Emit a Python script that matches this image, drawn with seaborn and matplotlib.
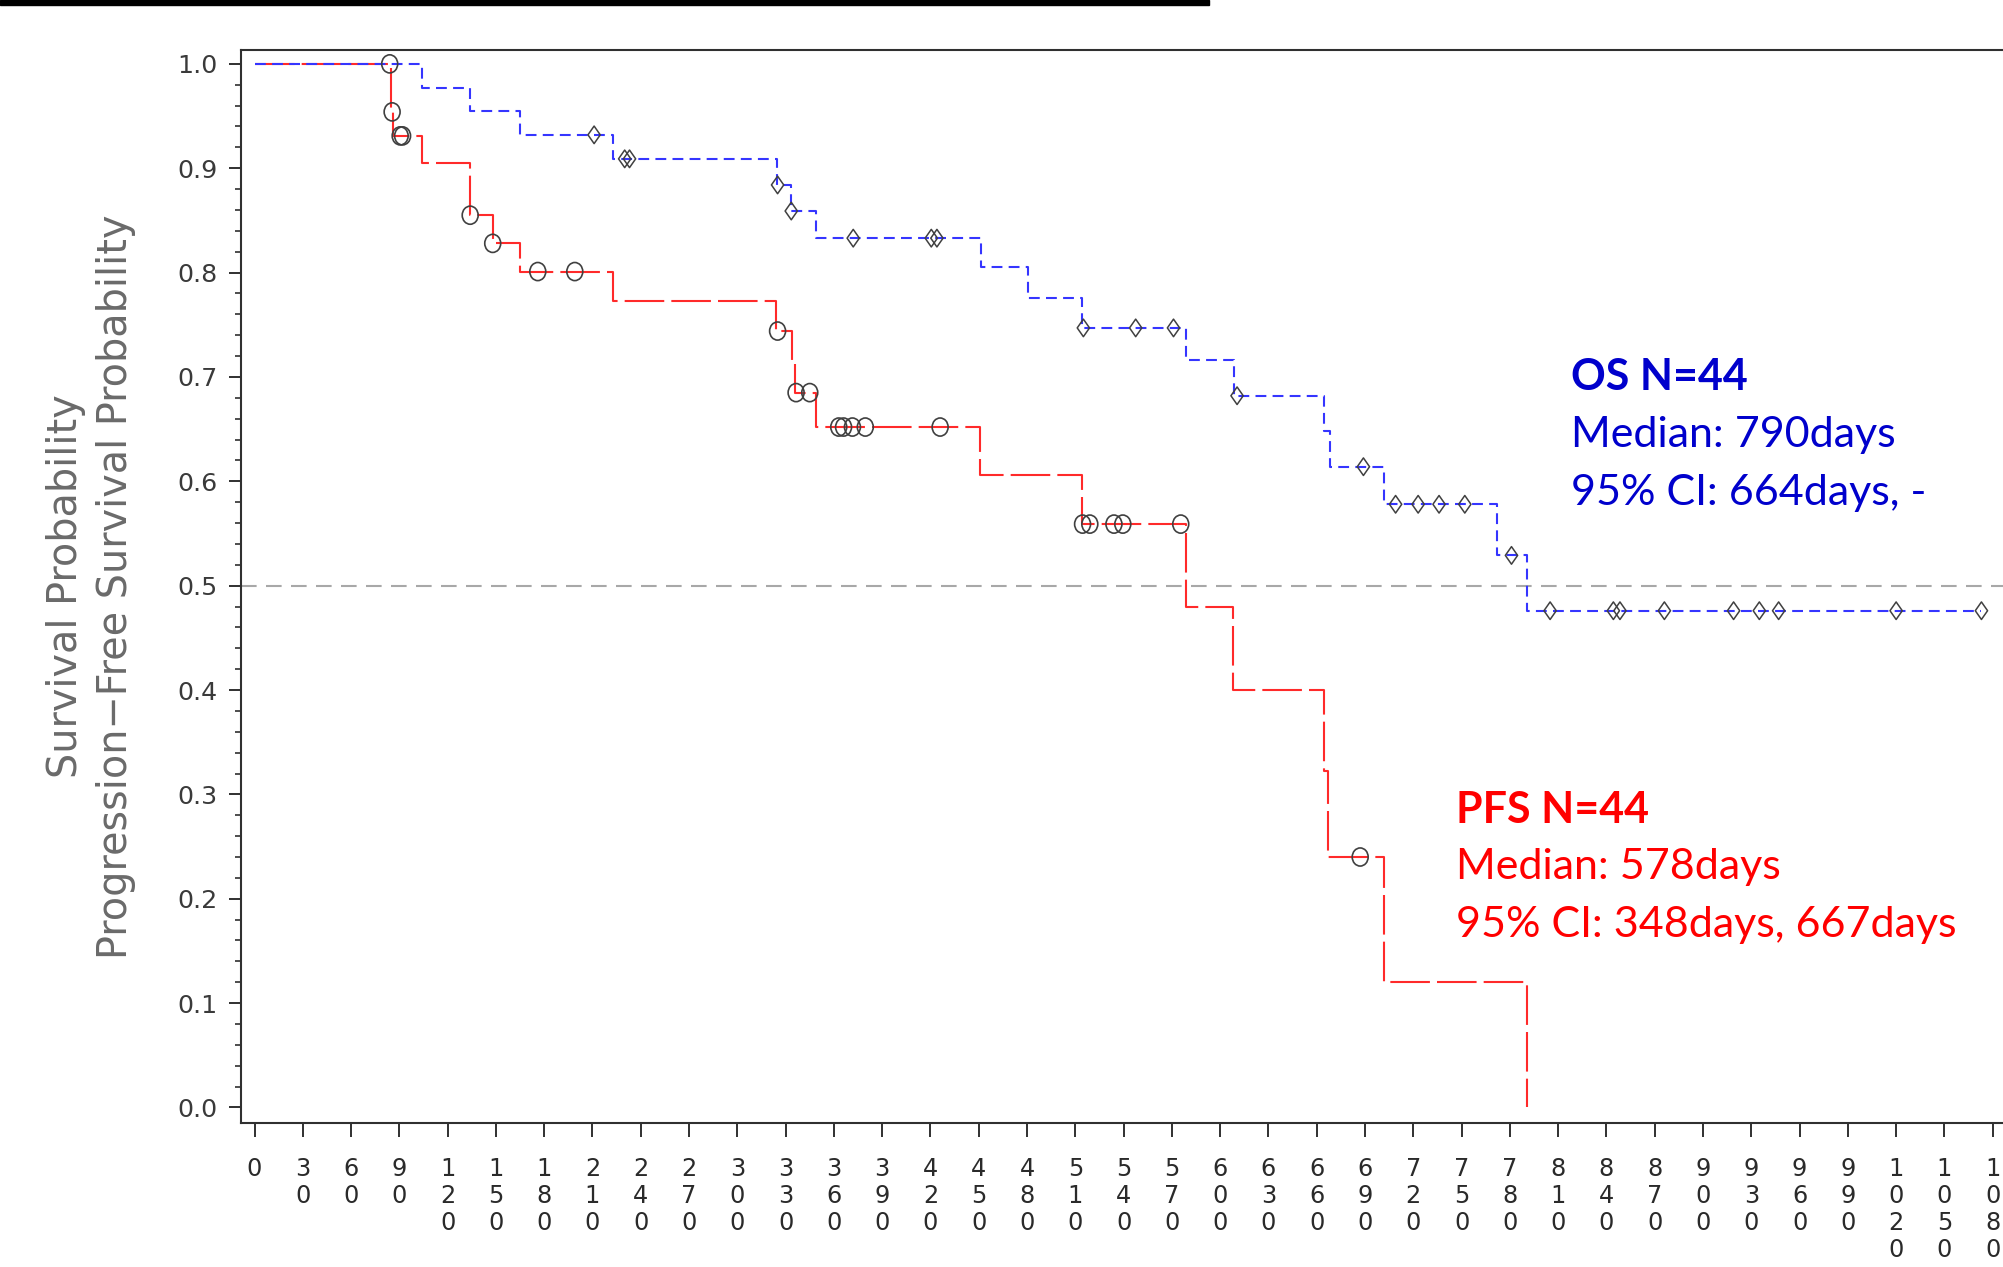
import matplotlib
matplotlib.use("Agg")
import matplotlib.pyplot as plt
import seaborn as sns
from matplotlib.path import Path
from matplotlib.transforms import Affine2D
from matplotlib.patches import Rectangle
from matplotlib.ticker import MultipleLocator

# ---- Kaplan-Meier estimates (day of each step, survival after the step) ----
pfs_days = [85, 86, 104, 134, 148, 165, 223, 324, 334, 336, 349, 451, 514,
            579, 608, 664.5, 667, 702, 790.5]
pfs_surv = [0.954, 0.931, 0.905, 0.855, 0.828, 0.801, 0.773, 0.744, 0.715,
            0.685, 0.652, 0.606, 0.559, 0.480, 0.400, 0.322, 0.240, 0.120, 0.0]

# censored PFS observations
pfs_cens_days = [84, 85.5, 90.5, 92, 134, 148, 176, 199, 325, 336.5, 345,
                 363, 366, 371.5, 379.5, 426, 514.5, 519, 534, 539.5, 575.5, 687]
pfs_cens_surv = [1.0, 0.954, 0.931, 0.931, 0.855, 0.828, 0.801, 0.801, 0.744,
                 0.685, 0.685, 0.652, 0.652, 0.652, 0.652, 0.652, 0.559, 0.559,
                 0.559, 0.559, 0.559, 0.240]

os_days = [104, 134, 165, 223, 324.5, 333.3, 348.8, 451.4, 480.5, 514.4,
           578.8, 608.5, 664.5, 668, 702, 771.7, 790.8]
os_surv = [0.977, 0.955, 0.932, 0.909, 0.884, 0.859, 0.833, 0.805, 0.776,
           0.747, 0.716, 0.682, 0.648, 0.614, 0.578, 0.529, 0.476]
os_last_day = 1073

# censored OS observations
os_cens_days = [211, 230, 233, 325, 333.5, 372, 420.5, 424, 515, 547.5, 571,
                610.5, 689, 709, 723, 736, 752, 781, 805, 844.3, 848.4, 876,
                919, 935, 947, 1020, 1073]
os_cens_surv = [0.932, 0.909, 0.909, 0.884, 0.859, 0.833, 0.833, 0.833, 0.747,
                0.747, 0.747, 0.682, 0.614, 0.578, 0.578, 0.578, 0.578, 0.529,
                0.476, 0.476, 0.476, 0.476, 0.476, 0.476, 0.476, 0.476, 0.476]

median_line = 0.5
x_ticks = list(range(0, 1081, 30))
y_ticks = [round(0.1 * i, 1) for i in range(11)]
y_label = "Survival Probability\nProgression\u2212Free Survival Probability"
os_text = ["OS N=44", "Median: 790days", "95% CI: 664days, -"]
pfs_text = ["PFS N=44", "Median: 578days", "95% CI: 348days, 667days"]

# ---- styling ----
sns.set_style("ticks")
plt.rcParams["font.family"] = ["DejaVu Sans"]

W, H = 2003, 1267
fig = plt.figure(figsize=(W / 100, H / 100), dpi=100)
ax_left, ax_right, ax_top, ax_bottom = 241, 2003, 50, 1122.7
ax = fig.add_axes([ax_left / W, (H - ax_bottom) / H,
                   (ax_right - ax_left) / W, (ax_bottom - ax_top) / H])

RED = "#ff2a2a"
BLUE = "#3535ff"
MARK = "#404040"

# step curves
pfs_x = [0] + pfs_days
pfs_y = [1.0] + pfs_surv
os_x = [0] + os_days + [os_last_day]
os_y = [1.0] + os_surv + [os_surv[-1]]

ax.axhline(median_line, color="#a8a8a8", lw=1.5, ls=(0, (7.5, 4.5)), zorder=1)

sns.lineplot(x=pfs_x, y=pfs_y, drawstyle="steps-post", estimator=None,
             sort=False, color=RED, lw=1.5, ax=ax, zorder=2)
ax.lines[-1].set_linestyle((0, (19, 3.4)))

sns.lineplot(x=os_x, y=os_y, drawstyle="steps-post", estimator=None,
             sort=False, color=BLUE, lw=1.5, ax=ax, zorder=3)
ax.lines[-1].set_linestyle((0, (5.2, 3.0)))

# censor markers: open ellipses for PFS, open diamonds for OS
ellipse = Affine2D().scale(0.88, 1.0).transform_path(Path.unit_circle())
diamond = Path([(0, 1), (0.7, 0), (0, -1), (-0.7, 0), (0, 1)],
               [Path.MOVETO, Path.LINETO, Path.LINETO, Path.LINETO, Path.CLOSEPOLY])

sns.scatterplot(x=pfs_cens_days, y=pfs_cens_surv, marker=ellipse, s=170,
                color=MARK, ax=ax, zorder=5)
sc = ax.collections[-1]
sc.set_facecolor("none"); sc.set_edgecolor(MARK); sc.set_linewidth(1.2)

sns.scatterplot(x=os_cens_days, y=os_cens_surv, marker=diamond, s=160,
                color=MARK, ax=ax, zorder=5)
sc = ax.collections[-1]
sc.set_facecolor("none"); sc.set_edgecolor(MARK); sc.set_linewidth(1.1)

# axes limits, ticks
ax.set_xlim(-8.4, 1086.4)
ax.set_ylim(-0.0146, 1.0133)
ax.set_xticks(x_ticks)
ax.set_xticklabels(["\n".join(str(v)) for v in x_ticks], linespacing=1.17,
                   color="#2a2a2a", fontsize=17.3)
ax.set_yticks(y_ticks)
ax.set_yticklabels([f"{v:.1f}" for v in y_ticks], color="#3a3a3a", fontsize=18.2)
ax.yaxis.set_minor_locator(MultipleLocator(0.02))
ax.tick_params(axis="y", which="major", length=8.3, width=1.4, pad=8.6,
               color="#303030", direction="out", left=True)
ax.tick_params(axis="y", which="minor", length=4.0, width=1.2,
               color="#303030", direction="out", left=True)
ax.tick_params(axis="x", which="major", length=10, width=1.4, pad=14.4,
               color="#303030", direction="out", bottom=True)

for side in ("left", "top", "bottom"):
    ax.spines[side].set_color("#303030")
    ax.spines[side].set_linewidth(1.5)
ax.spines["right"].set_visible(False)

ax.set_xlabel("")
ax.set_ylabel(y_label, fontsize=28.6, color="#6a6a6a", linespacing=1.33,
              va="center", ha="center", multialignment="center")
ax.yaxis.set_label_coords((91 - ax_left) / (ax_right - ax_left), 0.5)

# summary annotations
def frac_x(px):
    return (px - ax_left) / (ax_right - ax_left)

def frac_y(py):
    return (ax_bottom - py) / (ax_bottom - ax_top)

for i, (txt, base) in enumerate(zip(os_text, [390, 446.7, 505])):
    ax.text(frac_x(1571), frac_y(base), txt, transform=ax.transAxes,
            fontsize=31, fontweight="bold" if i == 0 else "normal",
            family=["Lato", "DejaVu Sans"], color="#0000cc",
            ha="left", va="baseline")
for i, (txt, base) in enumerate(zip(pfs_text, [823, 878.5, 937])):
    ax.text(frac_x(1456), frac_y(base), txt, transform=ax.transAxes,
            fontsize=31, fontweight="bold" if i == 0 else "normal",
            family=["Lato", "DejaVu Sans"], color="#ff0000",
            ha="left", va="baseline")

# black rule along the top edge
fig.patches.append(Rectangle((0, 1 - 5 / H), 1209 / W, 5 / H,
                             transform=fig.transFigure, color="black", zorder=10))

fig.savefig("out.png", dpi=100)
